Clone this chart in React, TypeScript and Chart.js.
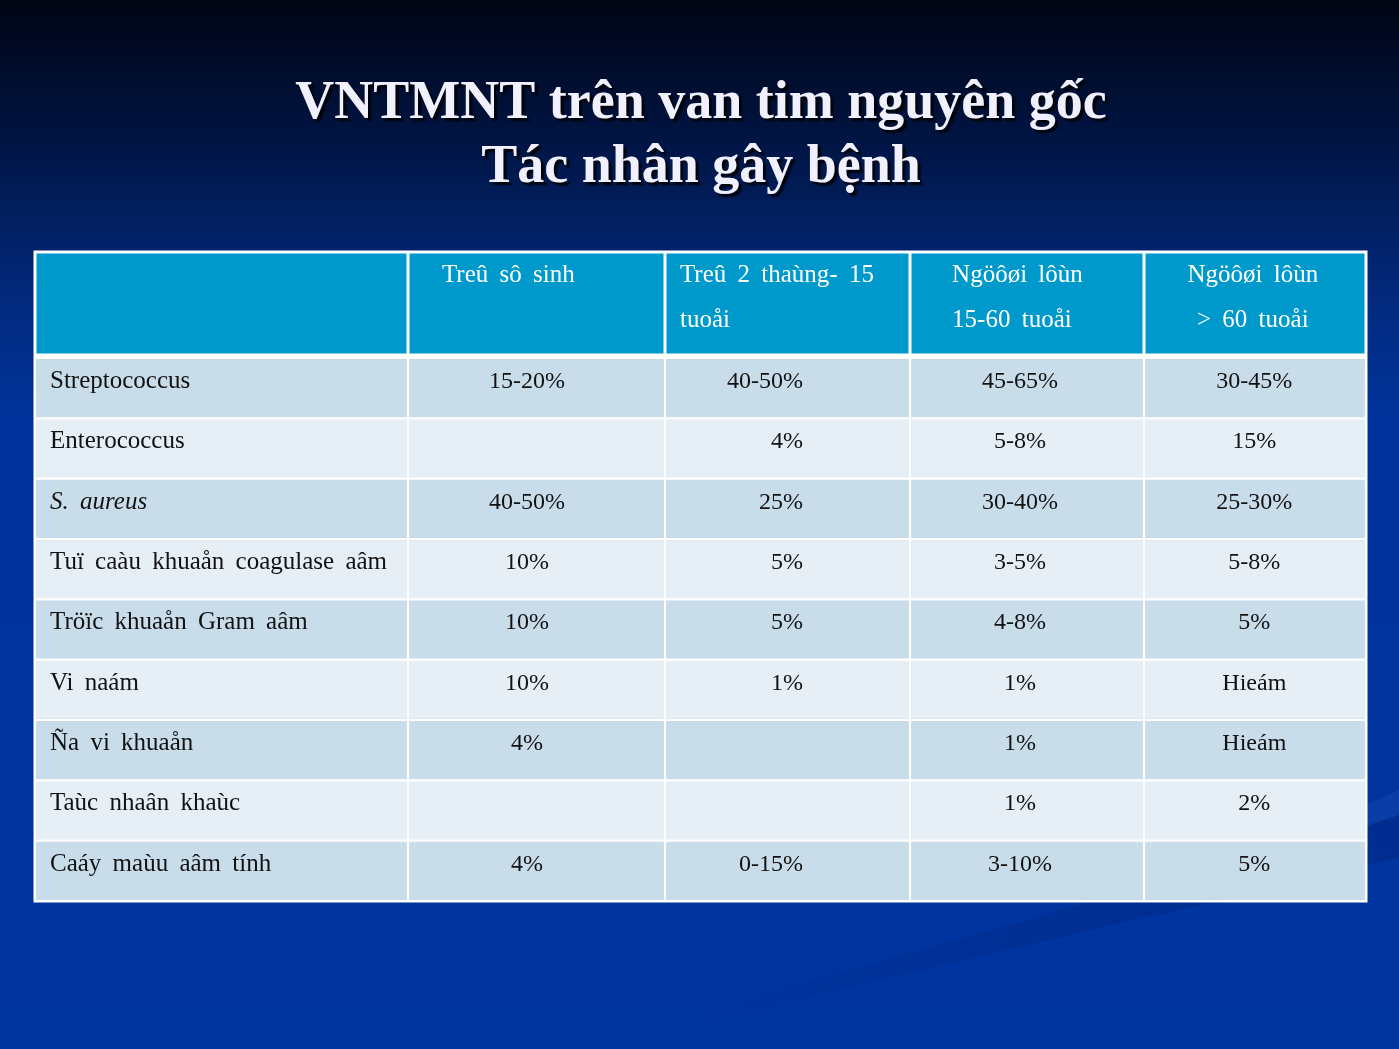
import React, { useEffect, useRef } from "react";
import { Chart, registerables } from "chart.js";

Chart.register(...registerables);

// ---------------- data ----------------
const TITLE_LINES = ["VNTMNT trên van tim nguyên gốc", "Tác nhân gây bệnh"];

const HEADER_LABELS: string[][] = [
  [""],
  ["Treû sô sinh"],
  ["Treû 2 thaùng- 15", "tuoåi"],
  ["Ngöôøi lôùn", "15-60 tuoåi"],
  ["Ngöôøi lôùn", "> 60 tuoåi"],
];

const ROW_LABELS = [
  "Streptococcus",
  "Enterococcus",
  "S. aureus",
  "Tuï caàu khuaån coagulase aâm",
  "Tröïc khuaån Gram aâm",
  "Vi naám",
  "Ña vi khuaån",
  "Taùc nhaân khaùc",
  "Caáy maùu aâm tính",
];

const ITALIC_ROWS = ["S. aureus"];

const NEWBORN = ["15-20%", "", "40-50%", "10%", "10%", "10%", "4%", "", "4%"];
const CHILD = ["40-50%", "4%", "25%", "5%", "5%", "1%", "", "", "0-15%"];
const ADULT = ["45-65%", "5-8%", "30-40%", "3-5%", "4-8%", "1%", "1%", "1%", "3-10%"];
const ELDERLY = ["30-45%", "15%", "25-30%", "5-8%", "5%", "Hieám", "Hieám", "2%", "5%"];

const VALUE_COLUMNS = [NEWBORN, CHILD, ADULT, ELDERLY];

// ---------------- layout / style ----------------
const COL_WIDTHS = [373, 257, 245, 234, 222];
const TABLE_WIDTH = COL_WIDTHS.reduce((a, b) => a + b, 0);
const HEADER_HEIGHT = 106;
const HEADER_BG = "#0099cc";
const ROW_DARK = "#c9dcea";
const ROW_LIGHT = "#e6eef6";
const LABEL_FONT = '25px "Liberation Serif", "Times New Roman", serif';
const VALUE_FONT = '24px "Liberation Serif", "Times New Roman", serif';
const TITLE_FONT = 'bold 54px "Liberation Serif", "Times New Roman", serif';

// header text placement: [align, fraction of column width]
const HEADER_ALIGN: [CanvasTextAlign, number][] = [
  ["left", 0.04],
  ["left", 0.132],
  ["left", 0.061],
  ["left", 0.18],
  ["center", 0.49],
];
// body value placement for the 4 value columns
const VALUE_ALIGN: [CanvasTextAlign, number][] = [
  ["center", 0.463],
  ["right", 0.563],
  ["center", 0.47],
  ["center", 0.497],
];

const backgroundPlugin = {
  id: "slideBackground",
  beforeDraw(chart: any) {
    const { ctx, width, height } = chart;
    ctx.save();
    const g = ctx.createLinearGradient(0, 0, 0, height);
    g.addColorStop(0, "#000514");
    g.addColorStop(0.08, "#000e30");
    g.addColorStop(0.18, "#011b55");
    g.addColorStop(0.28, "#02297c");
    g.addColorStop(0.4, "#00339c");
    g.addColorStop(1, "#0034a0");
    ctx.fillStyle = g;
    ctx.fillRect(0, 0, width, height);

    // subtle diagonal streaks bottom right
    const sg = ctx.createLinearGradient(700, 0, 1399, 0);
    sg.addColorStop(0, "rgba(0, 25, 100, 0)");
    sg.addColorStop(0.45, "rgba(0, 25, 100, 0.18)");
    sg.addColorStop(1, "rgba(0, 25, 100, 0.26)");
    ctx.fillStyle = sg;
    ctx.beginPath();
    ctx.moveTo(700, 1012);
    ctx.lineTo(1399, 815);
    ctx.lineTo(1399, 858);
    ctx.lineTo(700, 1022);
    ctx.closePath();
    ctx.fill();
    ctx.fillStyle = "rgba(80, 130, 220, 0.12)";
    ctx.beginPath();
    ctx.moveTo(1200, 880);
    ctx.lineTo(1399, 790);
    ctx.lineTo(1399, 815);
    ctx.lineTo(1200, 885);
    ctx.closePath();
    ctx.fill();

    // title
    ctx.font = TITLE_FONT;
    ctx.textAlign = "center";
    ctx.textBaseline = "alphabetic";
    ctx.shadowColor = "rgba(0,0,0,0.9)";
    ctx.shadowOffsetX = 3;
    ctx.shadowOffsetY = 3;
    ctx.shadowBlur = 2;
    ctx.fillStyle = "#f0f0ff";
    ctx.fillText(TITLE_LINES[0], 701, 118);
    ctx.fillText(TITLE_LINES[1], 701, 182);
    ctx.restore();
  },
};

const tablePlugin = {
  id: "tableText",
  afterDatasetsDraw(chart: any) {
    const { ctx, chartArea } = chart;
    ctx.save();
    ctx.textBaseline = "alphabetic";
    (ctx as any).wordSpacing = "0px";
    const hTop = chartArea.top - HEADER_HEIGHT;
    COL_WIDTHS.forEach((_, c) => {
      const meta = chart.getDatasetMeta(c);
      const first = meta.data[0];
      const left = Math.min(first.x, first.base);
      const right = Math.max(first.x, first.base);
      const w = right - left;
      // header cell
      ctx.fillStyle = "#ffffff";
      ctx.fillRect(left, hTop, w, HEADER_HEIGHT);
      ctx.fillStyle = HEADER_BG;
      ctx.fillRect(left + 1.5, hTop + 1.5, w - 3, HEADER_HEIGHT - 6);
      ctx.font = LABEL_FONT;
      (ctx as any).wordSpacing = "5px";
      ctx.fillStyle = "#ffffff";
      const [ha, hf] = HEADER_ALIGN[c];
      ctx.textAlign = ha;
      HEADER_LABELS[c].forEach((line, i) => {
        ctx.fillText(line, left + w * hf, hTop + 30 + i * 45);
      });

      // body cells
      meta.data.forEach((el: any, r: number) => {
        const l = Math.min(el.x, el.base);
        const cw = Math.abs(el.x - el.base);
        const top = el.y - el.height / 2;
        const baseline = top + 30;
        ctx.fillStyle = "#121212";
        if (c === 0) {
          const label = ROW_LABELS[r];
          ctx.font = ITALIC_ROWS.includes(label) ? "italic " + LABEL_FONT : LABEL_FONT;
          (ctx as any).wordSpacing = "5px";
          ctx.textAlign = "left";
          ctx.fillText(label, l + 15, baseline);
        } else {
          const text = VALUE_COLUMNS[c - 1][r];
          if (!text) return;
          ctx.font = VALUE_FONT;
          (ctx as any).wordSpacing = "0px";
          const [va, vf] = VALUE_ALIGN[c - 1];
          ctx.textAlign = va;
          ctx.fillText(text, l + cw * vf, baseline);
        }
      });
    });
    // outer table border
    ctx.strokeStyle = "#ffffff";
    ctx.lineWidth = 2;
    ctx.strokeRect(
      chartArea.left - 0.5,
      hTop - 0.5,
      chartArea.right - chartArea.left + 1,
      chartArea.bottom - hTop + 1
    );
    ctx.restore();
  },
};

export default function App() {
  const canvasRef = useRef<HTMLCanvasElement | null>(null);

  useEffect(() => {
    if (!canvasRef.current) return;
    const datasets = COL_WIDTHS.map((w, c) => ({
      label: c === 0 ? "Tác nhân" : HEADER_LABELS[c].join(" "),
      data: ROW_LABELS.map(() => w),
      backgroundColor: (ctx: any) => (ctx.dataIndex % 2 === 0 ? ROW_DARK : ROW_LIGHT),
      borderColor: "#ffffff",
      borderWidth: 1.5,
      borderSkipped: false as any,
      barPercentage: 1,
      categoryPercentage: 1,
    }));
    const chart = new Chart(canvasRef.current, {
      type: "bar",
      data: { labels: ROW_LABELS, datasets },
      options: {
        indexAxis: "y",
        responsive: false,
        animation: false,
        devicePixelRatio: 1,
        layout: { padding: { left: 35, top: 358, right: 33, bottom: 148 } },
        scales: {
          x: { type: "linear", stacked: true, min: 0, max: TABLE_WIDTH, display: false },
          y: { stacked: true, display: false },
        },
        plugins: {
          legend: { display: false },
          tooltip: { enabled: false },
          title: { display: false },
        },
        events: [],
      },
      plugins: [backgroundPlugin, tablePlugin],
    });
    return () => chart.destroy();
  }, []);

  return (
    <div style={{ position: "fixed", left: 0, top: 0, width: 1399, height: 1049 }}>
      <canvas ref={canvasRef} width={1399} height={1049} style={{ width: 1399, height: 1049, display: "block" }} />
    </div>
  );
}
